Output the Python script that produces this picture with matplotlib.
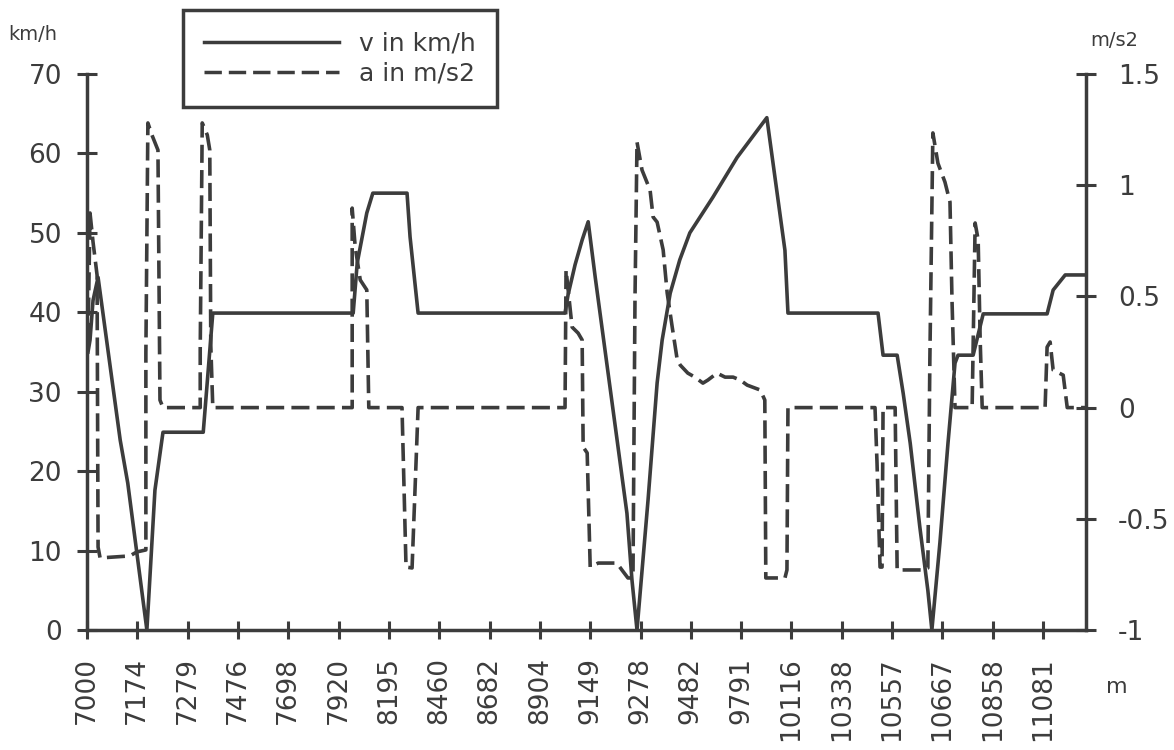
import numpy as np
import matplotlib
matplotlib.use("Agg")
import matplotlib.pyplot as plt
from matplotlib.lines import Line2D

# distance labels (m) under the evenly spaced sample positions
dist_labels = ["7000", "7174", "7279", "7476", "7698", "7920", "8195", "8460",
               "8682", "8904", "9149", "9278", "9482", "9791", "10116", "10338",
               "10557", "10667", "10858", "11081"]

# speed in km/h, x = position along the sample axis (1 unit per label)
v_pos = [0.02, 0.06, 0.12, 0.22, 0.46, 0.66, 0.81, 1.19, 1.35, 1.51, 2.31, 2.50,
         5.29, 5.37, 5.56, 5.68, 6.36, 6.42, 6.58, 9.50, 9.56, 9.70, 9.84, 9.96,
         10.10, 10.73, 10.83, 10.93, 11.15, 11.33, 11.43, 11.59, 11.78, 11.98,
         12.44, 12.92, 13.51, 13.87, 13.93, 15.72, 15.82, 16.10, 16.22, 16.36,
         16.55, 16.71, 16.79, 16.95, 17.11, 17.25, 17.31, 17.61, 17.81, 19.08,
         19.20, 19.44, 19.85]
v_kmh = [35.0, 36.5, 41.5, 44.4, 33.2, 23.9, 18.5, 0.0, 17.6, 24.9, 24.9, 39.9,
         39.9, 46.2, 52.5, 55.0, 55.0, 49.5, 39.9, 39.9, 42.2, 46.0, 49.1, 51.4,
         44.4, 14.7, 6.3, 0.0, 16.4, 31.1, 36.5, 42.4, 46.6, 50.0,
         54.5, 59.5, 64.5, 47.8, 39.9, 39.9, 34.6, 34.6, 29.8, 23.5,
         13.0, 5.0, 0.0, 11.0, 23.5, 33.6, 34.6, 34.6, 39.8, 39.8,
         42.8, 44.7, 44.7]

# acceleration in m/s2
a_pos = [0.02, 0.06, 0.12, 0.20, 0.22, 0.26, 0.85, 0.99, 1.17, 1.17, 1.21, 1.29,
         1.41, 1.45, 1.51, 2.25, 2.25, 2.29, 2.39, 2.44, 2.46, 2.50,
         5.27, 5.27, 5.33, 5.43, 5.56, 5.60, 6.26, 6.34, 6.46, 6.58,
         9.50, 9.52, 9.64, 9.76, 9.84, 9.86, 9.94, 10.00, 10.16, 10.53, 10.63,
         10.75, 10.85, 10.89, 10.93, 11.03, 11.19, 11.25, 11.33, 11.45, 11.53,
         11.63, 11.73, 11.79, 11.94, 12.08, 12.24, 12.34, 12.52, 12.68, 12.84,
         12.98, 13.12, 13.38, 13.47, 13.49, 13.87, 13.91, 13.93,
         15.66, 15.70, 15.76, 15.80, 15.82, 16.06, 16.10, 16.16, 16.61, 16.71,
         16.75, 16.81, 16.91, 17.05, 17.15, 17.19, 17.25, 17.59, 17.65, 17.71,
         17.75, 17.79, 19.04, 19.08, 19.14, 19.20, 19.40, 19.48, 19.85]
a_ms2 = [0.30, 0.875, 0.744, 0.596, -0.627, -0.676, -0.667, -0.649, -0.640, 0.245,
         1.28, 1.226, 1.158, 0.034, 0.0, 0.0, 0.259, 1.28, 1.226, 1.158, 0.281, 0.0,
         0.0, 0.897, 0.722, 0.574, 0.529, 0.0, 0.0, -0.717, -0.721, 0.0,
         0.0, 0.619, 0.362, 0.335, 0.304, -0.177, -0.204, -0.717, -0.699, -0.699,
         -0.730, -0.766, -0.766, 0.484, 1.194, 1.068, 0.978, 0.857, 0.834, 0.709,
         0.515, 0.362, 0.214, 0.191, 0.155, 0.137, 0.110, 0.124, 0.155, 0.137,
         0.137, 0.124, 0.101, 0.079, 0.034, -0.766, -0.766, -0.730, 0.0,
         0.0, -0.249, -0.717, -0.717, 0.0, 0.0, -0.730, -0.730, -0.730, -0.721,
         0.214, 1.235, 1.099, 1.014, 0.924, 0.484, 0.0, 0.0, 0.830, 0.754,
         0.304, 0.0, 0.0, 0.272, 0.295, 0.169, 0.146, 0.0, 0.0]

ink = "#3c3c3c"
plt.rcParams["font.family"] = ["DejaVu Sans"]

fig = plt.figure(figsize=(11.74, 7.5), dpi=100)
ax = fig.add_axes([87 / 1174, 0.16, 999 / 1174, 556 / 750])
ax2 = ax.twinx()

ax.plot(v_pos, v_kmh, color=ink, lw=2.6, solid_joinstyle="round")
ax2.plot(a_pos, a_ms2, color=ink, lw=2.6, linestyle=(0, (5, 2)))

ax.set_xlim(0, 19.853)
ax.set_ylim(0, 70)
ax2.set_ylim(-1, 1.5)

ax.set_xticks(np.arange(len(dist_labels)))
ax.set_xticklabels(dist_labels, rotation=90)
ax.set_yticks(np.arange(0, 71, 10))
ax2.set_yticks([-1, -0.5, 0, 0.5, 1, 1.5])
ax2.set_yticklabels(["-1", "-0.5", "0", "0.5", "1", "1.5"])

for a_ in (ax, ax2):
    a_.spines["top"].set_visible(False)
    for s in a_.spines.values():
        s.set_linewidth(2.5)
        s.set_color(ink)
ax.spines["right"].set_visible(False)
ax2.spines["left"].set_visible(False)
ax2.spines["bottom"].set_visible(False)

ax.tick_params(axis="y", direction="inout", length=14, width=2.2, pad=11,
               labelsize=19, colors=ink)
ax.tick_params(axis="x", direction="inout", length=13, width=2.2, pad=13,
               labelsize=19, colors=ink)
ax2.tick_params(axis="y", direction="inout", length=14, width=2.2, pad=16,
                labelsize=19, colors=ink)

fig.text(8 / 1174, 1 - 35 / 750, "km/h", fontsize=14, color=ink, ha="left", va="center")
fig.text(1090 / 1174, 1 - 40 / 750, "m/s2", fontsize=14, color=ink, ha="left", va="center")
fig.text(1117 / 1174, 1 - 687 / 750, "m", fontsize=16, color=ink, ha="center", va="center")

handles = [Line2D([], [], color=ink, lw=2.5),
           Line2D([], [], color=ink, lw=2.5, linestyle=(0, (5, 2)))]
leg = fig.legend(handles, ["v in km/h", "a in m/s2"], loc="upper left",
                 bbox_to_anchor=(183 / 1174, 1 - 108 / 750, 314 / 1174, 98 / 750),
                 mode="expand", fontsize=18, handlelength=5.4, handletextpad=0.8,
                 borderpad=0.85, labelspacing=0.25, fancybox=False, framealpha=1,
                 borderaxespad=0)
leg.get_frame().set_edgecolor(ink)
leg.get_frame().set_linewidth(2.5)
for t in leg.get_texts():
    t.set_color(ink)

fig.savefig("out.png", dpi=100)
